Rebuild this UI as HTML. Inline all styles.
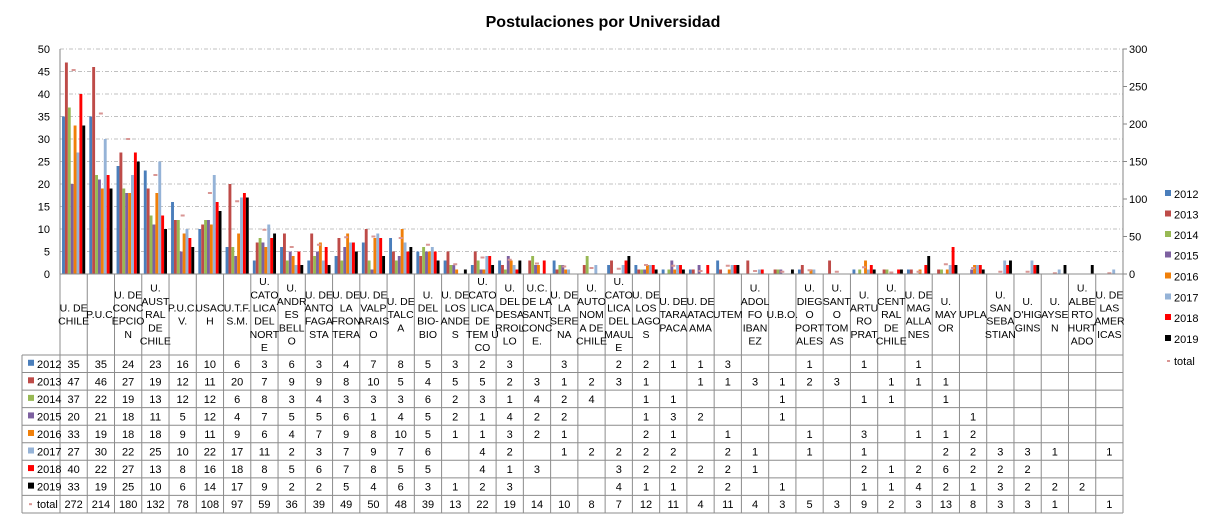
<!DOCTYPE html>
<html><head><meta charset="utf-8">
<style>
body{margin:0;background:#fff;}
svg text{font-family:"Liberation Sans",sans-serif;}
</style></head>
<body>
<svg id="chart" width="1208" height="520" viewBox="0 0 1208 520" xmlns="http://www.w3.org/2000/svg">
<text x="603" y="27" text-anchor="middle" font-size="16" font-weight="bold" fill="#000">Postulaciones por Universidad</text>
<g id="grid"></g><g id="bars"></g><g id="axes"></g><g id="table"></g><g id="legend"></g>
</svg>
<script>
const categories=["U. DE|CHILE","P.U.C.","U. DE|CONC|EPCIO|N","U.|AUST|RAL|DE|CHILE","P.U.C.|V.","USAC|H","U.T.F.|S.M.","U.|CATO|LICA|DEL|NORT|E","U.|ANDR|ES|BELL|O","U. DE|ANTO|FAGA|STA","U. DE|LA|FRON|TERA","U. DE|VALP|ARAIS|O","U. DE|TALC|A","U.|DEL|BIO-|BIO","U. DE|LOS|ANDE|S","U.|CATO|LICA|DE|TEM U|CO","U.|DEL|DESA|RROL|LO","U.C.|DE LA|SANT.|CONC|E.","U. DE|LA|SERE|NA","U.|AUTO|NOM|A DE|CHILE","U.|CATO|LICA|DEL|MAUL|E","U. DE|LOS|LAGO|S","U. DE|TARA|PACA","U. DE|ATAC|AMA","UTEM","U.|ADOL|FO|IBAN|EZ","U.B.O.","U.|DIEG|O|PORT|ALES","U.|SANT|O|TOM|AS","U.|ARTU|RO|PRAT","U.|CENT|RAL|DE|CHILE","U. DE|MAG|ALLA|NES","U.|MAY|OR","UPLA","U.|SAN|SEBA|STIAN","U.|O'HIG|GINS","U.|AYSE|N","U.|ALBE|RTO|HURT|ADO","U. DE|LAS|AMER|ICAS"];
const seriesNames=["2012","2013","2014","2015","2016","2017","2018","2019"];
const seriesColors=["#4a7ebb","#be4b48","#98b954","#7d60a0","#f07f09","#95b3d7","#ff0000","#000000"];
const N=null;
const v2012=[35,35,24,23,16,10,6,3,6,3,4,7,8,5,3,2,3,N,3,N,2,2,1,1,3,N,N,1,N,1,N,1,N,N,N,N,N,N,N];
const v2013=[47,46,27,19,12,11,20,7,9,9,8,10,5,4,5,5,2,3,1,2,3,1,N,1,1,3,1,2,3,N,1,1,1,N,N,N,N,N,N];
const v2014=[37,22,19,13,12,12,6,8,3,4,3,3,3,6,2,3,1,4,2,4,N,1,1,N,N,N,1,N,N,1,1,N,1,N,N,N,N,N,N];
const v2015=[20,21,18,11,5,12,4,7,5,5,6,1,4,5,2,1,4,2,2,N,N,1,3,2,N,N,1,N,N,N,N,N,N,1,N,N,N,N,N];
const v2016=[33,19,18,18,9,11,9,6,4,7,9,8,10,5,1,1,3,2,1,N,N,2,1,N,1,N,N,1,N,3,N,1,1,2,N,N,N,N,N];
const v2017=[27,30,22,25,10,22,17,11,2,3,7,9,7,6,N,4,2,N,1,2,2,2,2,N,2,1,N,1,N,1,N,N,2,2,3,3,1,N,1];
const v2018=[40,22,27,13,8,16,18,8,5,6,7,8,5,5,N,4,1,3,N,N,3,2,2,2,2,1,N,N,N,2,1,2,6,2,2,2,N,N,N];
const v2019=[33,19,25,10,6,14,17,9,2,2,5,4,6,3,1,2,3,N,N,N,4,1,1,N,2,N,1,N,N,1,1,4,2,1,3,2,2,2,N];
const totals=[272,214,180,132,78,108,97,59,36,39,49,50,48,39,13,22,19,14,10,8,7,12,11,4,11,4,3,5,3,9,2,3,13,8,3,3,1,N,1];
const leftTicks=[0,5,10,15,20,25,30,35,40,45,50];
const rightTicks=[0,50,100,150,200,250,300];
const series=[v2012,v2013,v2014,v2015,v2016,v2017,v2018,v2019];

const NS="http://www.w3.org/2000/svg";
const X0=60,X1=1123,Y0=274,YT=49,TL=22;
const cw=(X1-X0)/categories.length;
const yL=v=>Y0-(v/50)*(Y0-YT);
const yR=v=>Y0-(v/300)*(Y0-YT);
function mk(tag,parent,attrs){const e=document.createElementNS(NS,tag);for(const k in attrs)e.setAttribute(k,attrs[k]);parent.appendChild(e);return e;}
const grid=document.getElementById('grid'),bars=document.getElementById('bars'),axes=document.getElementById('axes'),table=document.getElementById('table'),legend=document.getElementById('legend');

leftTicks.forEach(t=>{
  if(t>0){const g=mk('line',grid,{x1:X0,x2:X1,y1:yL(t),y2:yL(t),stroke:'#c0c0c0','stroke-dasharray':'4,2,1,2','stroke-width':1});
  
  }
  const tx=mk('text',axes,{x:X0-10,y:yL(t)+4,'text-anchor':'end','font-size':11,fill:'#000'});tx.textContent=t;
  
  
});
rightTicks.forEach(t=>{
  mk('line',axes,{x1:X1,x2:X1+4,y1:yR(t),y2:yR(t),stroke:'#868686'});
  const tx=mk('text',axes,{x:X1+6,y:yR(t)+4,'font-size':11,fill:'#000'});tx.textContent=t;
  
  
});
mk('line',axes,{x1:X0,x2:X0,y1:YT,y2:Y0,stroke:'#868686'});
mk('line',axes,{x1:X1,x2:X1,y1:YT,y2:Y0,stroke:'#868686'});

const bw=cw*0.85/8, off=cw*0.075;
categories.forEach((c,i)=>{
  series.forEach((s,k)=>{
    const v=s[i]; if(v==null) return;
    const r=mk('rect',bars,{x:X0+i*cw+off+k*bw,y:yL(v),width:bw,height:Y0-yL(v),fill:seriesColors[k]});
    
    
  });
  if(totals[i]!=null){
    const m=mk('rect',bars,{x:X0+i*cw+cw/2-2,y:yR(totals[i])-1,width:4,height:2,fill:'#d99694'});
    
    
  }
});

// table
const RT=355,RH=17.55,rowsN=9,TB=RT+RH*rowsN;
const lc='#8c8c8c';
mk('line',table,{x1:X0,x2:X1,y1:Y0,y2:Y0,stroke:lc});
for(let r=0;r<=rowsN;r++) mk('line',table,{x1:TL,x2:X1,y1:RT+r*RH,y2:RT+r*RH,stroke:lc});
mk('line',table,{x1:TL,x2:TL,y1:RT,y2:TB,stroke:lc});
for(let i=0;i<=categories.length;i++) mk('line',table,{x1:X0+i*cw,x2:X0+i*cw,y1:Y0,y2:TB,stroke:lc});
categories.forEach((c,i)=>{
  const lines=c.split('|'), lh=13.2, cx=X0+i*cw+cw/2;
  const start=(Y0+RT)/2-(lines.length*lh)/2+lh-3;
  const t=mk('text',table,{x:cx,y:start,'text-anchor':'middle','font-size':10.5,fill:'#000'});
  
  
  lines.forEach((l,j)=>{const ts=mk('tspan',t,{x:cx,y:start+j*lh});ts.textContent=l;});
});
const rowVals=series.concat([totals]);
const rowNames=seriesNames.concat(['total']);
rowVals.forEach((s,r)=>{
  const yc=RT+r*RH+RH/2+4;
  if(r<8){mk('rect',table,{x:TL+6,y:yc-8,width:6,height:6,fill:seriesColors[r]});}
  else{mk('rect',table,{x:TL+7,y:yc-5,width:3,height:2,fill:'#d99694'});}
  const lb=mk('text',table,{x:TL+15,y:yc,'font-size':11,fill:'#000'});lb.textContent=rowNames[r];
  
  
  s.forEach((v,i)=>{ if(v==null) return;
    const t=mk('text',table,{x:X0+i*cw+cw/2,y:yc,'text-anchor':'middle','font-size':11,fill:'#000'});t.textContent=v;
    
    
  });
});

// legend
const LY=[194,214.5,235,255.5,276.5,297.5,318,339,361];
rowNames.forEach((n,k)=>{
  const g=mk('g',legend,{});
  
  
  if(k<8) mk('rect',g,{x:1165,y:LY[k]-4,width:6,height:6,fill:seriesColors[k]});
  else mk('rect',g,{x:1167,y:LY[k]-1,width:3,height:2,fill:'#d99694'});
  const t=mk('text',g,{x:1174,y:LY[k]+4,'font-size':11,fill:'#000'});t.textContent=n;
});
</script>
</body></html>
